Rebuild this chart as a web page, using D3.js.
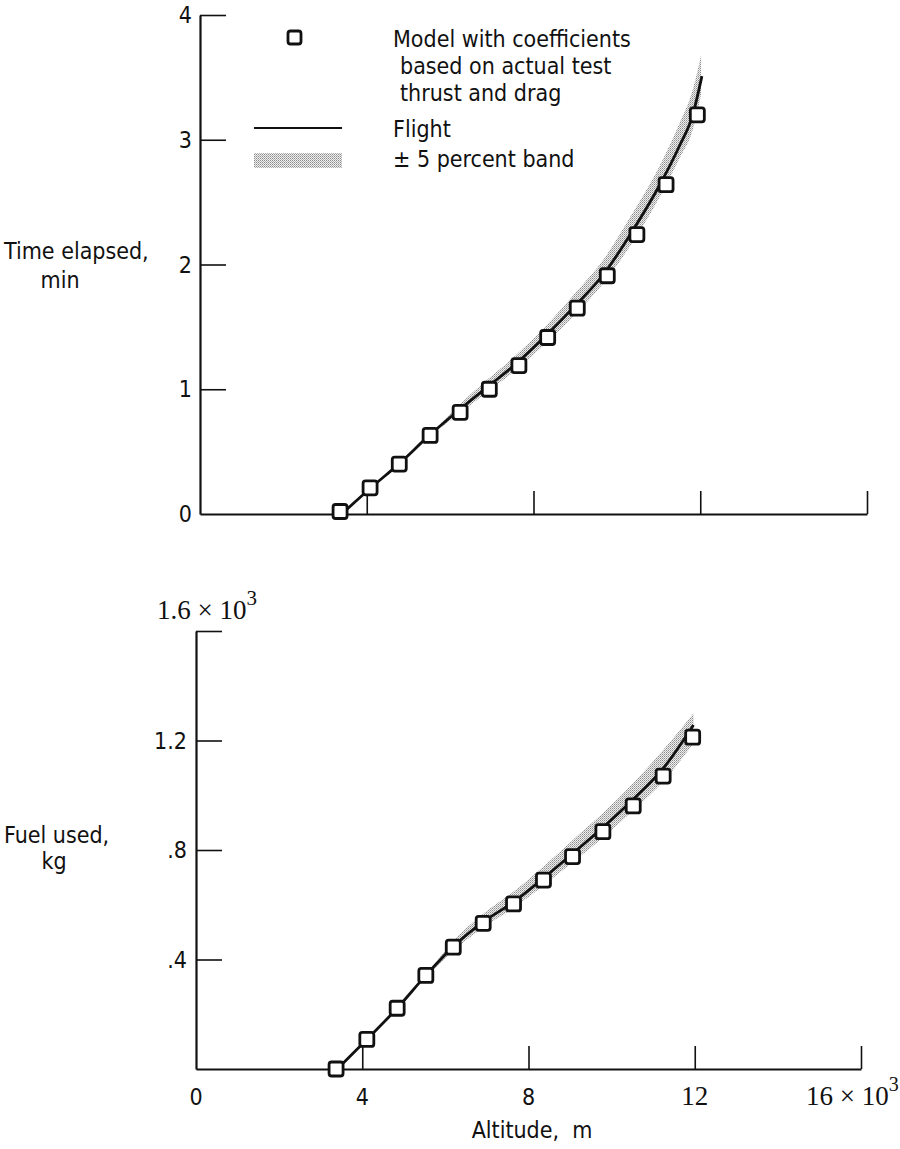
<!DOCTYPE html>
<html>
<head>
<meta charset="utf-8">
<script src="https://cdn.jsdelivr.net/npm/d3@7"></script>
<style>
  html, body { margin: 0; padding: 0; background: #fff; }
  svg { display: block; }
  .lab { font-family: "DejaVu Sans Condensed", "Liberation Sans Narrow", "Liberation Sans", sans-serif; font-size: 23px; fill: #111; }
  .ser { font-family: "Liberation Serif", "DejaVu Serif", serif; font-size: 27px; fill: #111; }
</style>
</head>
<body>
<script>
// Climb to altitude: time elapsed and fuel used versus altitude (10^3 m)

// Upper panel – model points (altitude, time in min)
const modelTimeAlt  = [3.36, 4.08, 4.78, 5.52, 6.24, 6.94, 7.65, 8.34, 9.05, 9.77, 10.48, 11.18, 11.93];
const modelTimeVal  = [0.02, 0.21, 0.40, 0.63, 0.815, 1.00, 1.19, 1.415, 1.65, 1.91, 2.24, 2.64, 3.20];
// Upper panel – flight curve
const flightTimeAlt = [3.40, 4.10, 4.80, 5.50, 6.20, 6.90, 7.60, 8.30, 9.00, 9.70, 10.32, 11.04, 11.50, 11.82, 12.04];
const flightTimeVal = [0.00, 0.21, 0.41, 0.63, 0.83, 1.02, 1.21, 1.43, 1.67, 1.93, 2.24, 2.645, 2.95, 3.20, 3.51];
// Upper panel – ±5 percent band
const bandTimeAlt   = [5.6, 6.2, 6.9, 7.6, 8.3, 9.0, 9.7, 10.32, 11.04, 11.5, 11.82, 12.02];
const bandTimeHigh  = [0.67, 0.87, 1.08, 1.28, 1.51, 1.77, 2.05, 2.38, 2.80, 3.13, 3.40, 3.68];
const bandTimeLow   = [0.65, 0.80, 0.98, 1.16, 1.37, 1.60, 1.86, 2.15, 2.55, 2.85, 3.08, 3.36];

// Lower panel – model points (altitude, fuel in 10^3 kg)
const modelFuelAlt  = [3.37, 4.11, 4.84, 5.53, 6.19, 6.91, 7.64, 8.36, 9.06, 9.79, 10.52, 11.24, 11.95];
const modelFuelVal  = [0.00, 0.108, 0.222, 0.342, 0.445, 0.532, 0.603, 0.690, 0.776, 0.867, 0.961, 1.070, 1.212];
// Lower panel – flight curve
const flightFuelAlt = [3.40, 4.11, 4.84, 5.53, 6.19, 6.91, 7.64, 8.36, 9.06, 9.79, 10.52, 11.24, 11.97];
const flightFuelVal = [0.00, 0.108, 0.222, 0.342, 0.447, 0.537, 0.610, 0.697, 0.787, 0.882, 0.985, 1.098, 1.257];
// Lower panel – ±5 percent band
const bandFuelAlt   = [5.6, 6.19, 6.91, 7.64, 8.36, 9.06, 9.79, 10.52, 11.24, 11.97];
const bandFuelHigh  = [0.355, 0.468, 0.567, 0.648, 0.740, 0.836, 0.935, 1.045, 1.165, 1.30];
const bandFuelLow   = [0.345, 0.432, 0.517, 0.588, 0.670, 0.755, 0.845, 0.945, 1.050, 1.19];

// Ticks and labels
const altTicks        = [4, 8, 12, 16];
const altTickLabels   = ["0", "4", "8", "12"];
const timeTicks       = [1, 2, 3, 4];
const timeTickLabels  = ["0", "1", "2", "3", "4"];
const fuelTicks       = [0.4, 0.8, 1.2, 1.6];
const fuelTickLabels  = [".4", ".8", "1.2"];
const legendModel     = ["Model with coefficients", "based on actual test", "thrust and drag"];

const W = 900, H = 1149;
const svg = d3.select("body").append("svg").attr("width", W).attr("height", H);
svg.append("rect").attr("width", W).attr("height", H).attr("fill", "#fff");

// stippled fill for the tolerance band
const defs = svg.append("defs");
const pat = defs.append("pattern").attr("id", "stipple")
  .attr("patternUnits", "userSpaceOnUse").attr("width", 2).attr("height", 2);
pat.append("rect").attr("width", 2).attr("height", 2).attr("fill", "#eeeeee");
pat.append("rect").attr("width", 1).attr("height", 1).attr("fill", "#8c8c8c");
pat.append("rect").attr("x", 1).attr("y", 1).attr("width", 1).attr("height", 1).attr("fill", "#b4b4b4");

// scales
const xTop = d3.scaleLinear([0, 16], [200, 867]);
const yTop = d3.scaleLinear([0, 4], [514, 15]);
const xBot = d3.scaleLinear([0, 16], [196, 861]);
const yBot = d3.scaleLinear([0, 1.6], [1069, 631]);

function drawAxes(x, y, yTicks) {
  const gx = svg.append("g").attr("transform", `translate(0,${y(0)})`)
    .call(d3.axisBottom(x).tickValues(altTicks).tickSize(-23).tickSizeOuter(0).tickFormat(""));
  const gy = svg.append("g").attr("transform", `translate(${x(0)},0)`)
    .call(d3.axisLeft(y).tickValues(yTicks).tickSize(-26).tickSizeOuter(0).tickFormat(""));
  [gx, gy].forEach(g => {
    g.select(".domain").attr("stroke", "#111").attr("stroke-width", 2.2);
    g.selectAll(".tick line").attr("stroke", "#111").attr("stroke-width", 1.6);
  });
}

drawAxes(xTop, yTop, timeTicks);
drawAxes(xBot, yBot, fuelTicks);

const bandArea = (x, y) => d3.area().x(d => x(d[0])).y0(d => y(d[1])).y1(d => y(d[2])).curve(d3.curveMonotoneX);
const curve = (x, y) => d3.line().x(d => x(d[0])).y(d => y(d[1])).curve(d3.curveMonotoneX);

function drawPanel(x, y, bAlt, bLow, bHigh, fAlt, fVal, mAlt, mVal) {
  svg.append("path")
    .datum(bAlt.map((a, i) => [a, bLow[i], bHigh[i]]))
    .attr("d", bandArea(x, y)).attr("fill", "url(#stipple)");
  svg.append("path")
    .datum(fAlt.map((a, i) => [a, fVal[i]]))
    .attr("d", curve(x, y)).attr("fill", "none").attr("stroke", "#111").attr("stroke-width", 2.8);
  svg.append("g").selectAll("rect")
    .data(mAlt.map((a, i) => [a, mVal[i]]))
    .join("rect")
    .attr("x", d => x(d[0]) - 7).attr("y", d => y(d[1]) - 7)
    .attr("width", 14).attr("height", 14).attr("rx", 2.5)
    .attr("fill", "#fff").attr("stroke", "#111").attr("stroke-width", 2.8);
}

drawPanel(xTop, yTop, bandTimeAlt, bandTimeLow, bandTimeHigh, flightTimeAlt, flightTimeVal, modelTimeAlt, modelTimeVal);
drawPanel(xBot, yBot, bandFuelAlt, bandFuelLow, bandFuelHigh, flightFuelAlt, flightFuelVal, modelFuelAlt, modelFuelVal);

// y tick labels, upper panel
svg.append("g").selectAll("text").data(timeTickLabels).join("text")
  .attr("class", "lab").attr("text-anchor", "end")
  .attr("x", xTop(0) - 8).attr("y", (d, i) => yTop(i) + 8).text(d => d);

// y tick labels, lower panel
svg.append("g").selectAll("text").data(fuelTickLabels).join("text")
  .attr("class", "lab").attr("text-anchor", "end")
  .attr("x", xBot(0) - 9).attr("y", (d, i) => yBot(fuelTicks[i]) + 8).text(d => d);
const fuelTop = svg.append("text").attr("class", "ser")
  .attr("x", 157).attr("y", yBot(1.6) - 12);
fuelTop.append("tspan").text("1.6 × 10");
fuelTop.append("tspan").attr("dy", -14).attr("font-size", 21).text("3");

// x tick labels
svg.append("g").selectAll("text").data(altTickLabels).join("text")
  .attr("class", (d, i) => i === 3 ? "ser" : "lab").attr("text-anchor", "middle")
  .attr("x", (d, i) => xBot(i * 4)).attr("y", 1105).text(d => d);
const altEnd = svg.append("text").attr("class", "ser").attr("x", 806).attr("y", 1105);
altEnd.append("tspan").text("16 × 10");
altEnd.append("tspan").attr("dy", -14).attr("font-size", 20).text("3");

// axis titles
svg.append("text").attr("class", "lab").attr("x", 532).attr("y", 1138)
  .attr("text-anchor", "middle").text("Altitude,\u00a0\u00a0m");
svg.append("text").attr("class", "lab").attr("x", 4).attr("y", 259).text("Time elapsed,");
svg.append("text").attr("class", "lab").attr("x", 60).attr("y", 288).attr("text-anchor", "middle").text("min");
svg.append("text").attr("class", "lab").attr("x", 4).attr("y", 843).text("Fuel used,");
svg.append("text").attr("class", "lab").attr("x", 54).attr("y", 869).attr("text-anchor", "middle").text("kg");

// legend
const leg = svg.append("g");
leg.append("rect").attr("x", 288).attr("y", 31).attr("width", 13).attr("height", 13).attr("rx", 2.5)
  .attr("fill", "#fff").attr("stroke", "#111").attr("stroke-width", 2.8);
leg.append("line").attr("x1", 254).attr("x2", 342).attr("y1", 128).attr("y2", 128)
  .attr("stroke", "#111").attr("stroke-width", 2);
leg.append("rect").attr("x", 254).attr("y", 153).attr("width", 88).attr("height", 15).attr("fill", "url(#stipple)");
leg.selectAll("text.m").data(legendModel).join("text").attr("class", "lab m")
  .attr("x", (d, i) => i === 0 ? 393 : 400).attr("y", (d, i) => 47 + i * 27).text(d => d);
leg.append("text").attr("class", "lab").attr("x", 393).attr("y", 137).text("Flight");
leg.append("text").attr("class", "lab").attr("x", 393).attr("y", 167).text("± 5 percent band");
</script>
</body>
</html>
